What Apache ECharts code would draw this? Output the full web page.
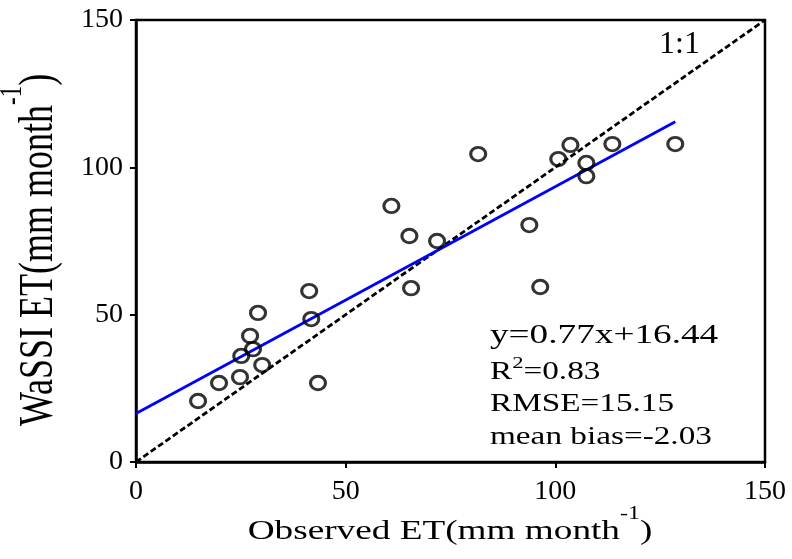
<!DOCTYPE html>
<html>
<head>
<meta charset="utf-8">
<script src="https://cdn.jsdelivr.net/npm/echarts@6/dist/echarts.min.js"></script>
<style>
  html, body { margin: 0; padding: 0; background: #fff; }
  #chart { width: 792px; height: 559px; }
</style>
</head>
<body>
<div id="chart"></div>
<script>
// Observed vs. modelled (WaSSI) monthly ET, mm/month
const observedET = [14.8, 19.8, 24.8, 25.1, 27.2, 27.9, 29.1, 30.1, 41.3, 41.8, 43.4, 60.9,
                    65.2, 65.6, 71.8, 81.6, 93.8, 96.4, 100.7, 103.6, 107.4, 107.4, 113.6, 128.6];
const wassiET    = [20.7, 26.8, 28.8, 36.0, 42.8, 38.3, 50.6, 32.9, 58.0, 48.5, 26.8, 86.9,
                    76.7, 59.0, 75.0, 104.5, 80.4, 59.4, 102.8, 107.6, 101.5, 97.0, 107.9, 107.9];

// Regression statistics
const fitSlope = 0.77;
const fitIntercept = 16.44;
const rSquared = 0.83;
const rmse = 15.15;
const meanBias = -2.03;

// Axis range and ticks
const axisMin = 0;
const axisMax = 150;
const tickStep = 50;

const FONT = '"Liberation Serif", "Times New Roman", serif';
const STRETCH = 1.33;

const pairs = observedET.map((x, i) => [x, wassiET[i]]);
const fitEnd = Math.max(...observedET);
const fitLine = [[0, fitIntercept], [fitEnd, fitSlope * fitEnd + fitIntercept]];
const oneToOne = [[axisMin, axisMin], [axisMax, axisMax]];

// text measuring for multi-part labels with superscripts
const mctx = document.createElement('canvas').getContext('2d');
function measure(text, size) {
  mctx.font = size + 'px ' + FONT;
  return mctx.measureText(text).width;
}
// parts: [{t, size, rise}] ; baseline sits at group origin
function styledLabel(parts, pos) {
  const widths = parts.map(p => measure(p.t, p.size));
  const total = widths.reduce((a, b) => a + b, 0);
  let cx = pos.align === 'center' ? -total / 2 : 0;
  const children = parts.map((p, i) => {
    const el = {
      type: 'text',
      x: cx,
      y: -(p.rise || 0) - 0.335 * p.size,
      style: {
        text: p.t,
        font: p.size + 'px ' + FONT,
        fill: '#000',
        align: 'left', textAlign: 'left',
        verticalAlign: 'middle', textVerticalAlign: 'middle'
      }
    };
    cx += widths[i];
    return el;
  });
  return {
    type: 'group',
    x: pos.x, y: pos.y,
    rotation: pos.rotation || 0,
    scaleX: pos.scaleX || 1,
    scaleY: pos.scaleY || 1,
    silent: true,
    children: children
  };
}

const chart = echarts.init(document.getElementById('chart'), null, { renderer: 'canvas' });

const axisCommon = {
  type: 'value',
  min: axisMin, max: axisMax, interval: tickStep,
  splitLine: { show: false },
  axisLine: { show: true, onZero: false, lineStyle: { color: '#000', width: 2.5 } },
  axisTick: { show: true, inside: false, length: 6, lineStyle: { color: '#000', width: 2 } },
  axisLabel: { color: '#000', fontFamily: FONT, fontSize: 28 }
};

chart.setOption({
  animation: false,
  backgroundColor: '#fff',
  grid: {
    left: 136, right: 27, top: 20, bottom: 97,
    show: true, borderColor: '#000', borderWidth: 2.5, backgroundColor: 'transparent'
  },
  xAxis: Object.assign({}, axisCommon, {
    axisLabel: Object.assign({}, axisCommon.axisLabel, { margin: 16 })
  }),
  yAxis: Object.assign({}, axisCommon, {
    axisLabel: Object.assign({}, axisCommon.axisLabel, { margin: 13 })
  }),
  series: [
    {
      name: '1:1',
      type: 'line',
      data: oneToOne,
      showSymbol: false,
      symbol: 'none',
      lineStyle: { color: '#000', width: 2.8, type: [6, 3] },
      z: 2
    },
    {
      name: 'fit',
      type: 'line',
      data: fitLine,
      showSymbol: false,
      symbol: 'none',
      lineStyle: { color: '#0000ff', width: 2.8 },
      z: 3
    },
    {
      name: 'ET',
      type: 'scatter',
      data: pairs,
      symbol: 'circle',
      symbolSize: [15, 13.5],
      itemStyle: { color: 'rgba(0,0,0,0)', borderColor: '#000', borderWidth: 3 },
      z: 4
    }
  ],
  graphic: [
    // x-axis title
    styledLabel([
      { t: 'Observed ET(mm month', size: 28 },
      { t: '-1', size: 18, rise: 21 },
      { t: ')', size: 28 }
    ], { x: 450, y: 541, align: 'center', scaleX: STRETCH }),
    // y-axis title
    styledLabel([
      { t: 'WaSSI ET(mm month', size: 36 },
      { t: '-1', size: 23, rise: 24 },
      { t: ')', size: 36 }
    ], { x: 55, y: 250, align: 'center', rotation: Math.PI / 2, scaleY: STRETCH }),
    // 1:1 line label
    styledLabel([{ t: '1:1', size: 32 }], { x: 659, y: 55 }),
    // regression annotation
    styledLabel([
      { t: 'y=' + fitSlope.toFixed(2) + 'x+' + fitIntercept.toFixed(2), size: 28 }
    ], { x: 490, y: 345, scaleX: STRETCH }),
    styledLabel([
      { t: 'R', size: 25 },
      { t: '2', size: 17, rise: 12 },
      { t: '=' + rSquared.toFixed(2), size: 25 }
    ], { x: 490, y: 381, scaleX: STRETCH }),
    styledLabel([
      { t: 'RMSE=' + rmse.toFixed(2), size: 25 }
    ], { x: 490, y: 413, scaleX: STRETCH }),
    styledLabel([
      { t: 'mean bias=' + meanBias.toFixed(2), size: 25 }
    ], { x: 490, y: 446, scaleX: STRETCH })
  ]
});
</script>
</body>
</html>
